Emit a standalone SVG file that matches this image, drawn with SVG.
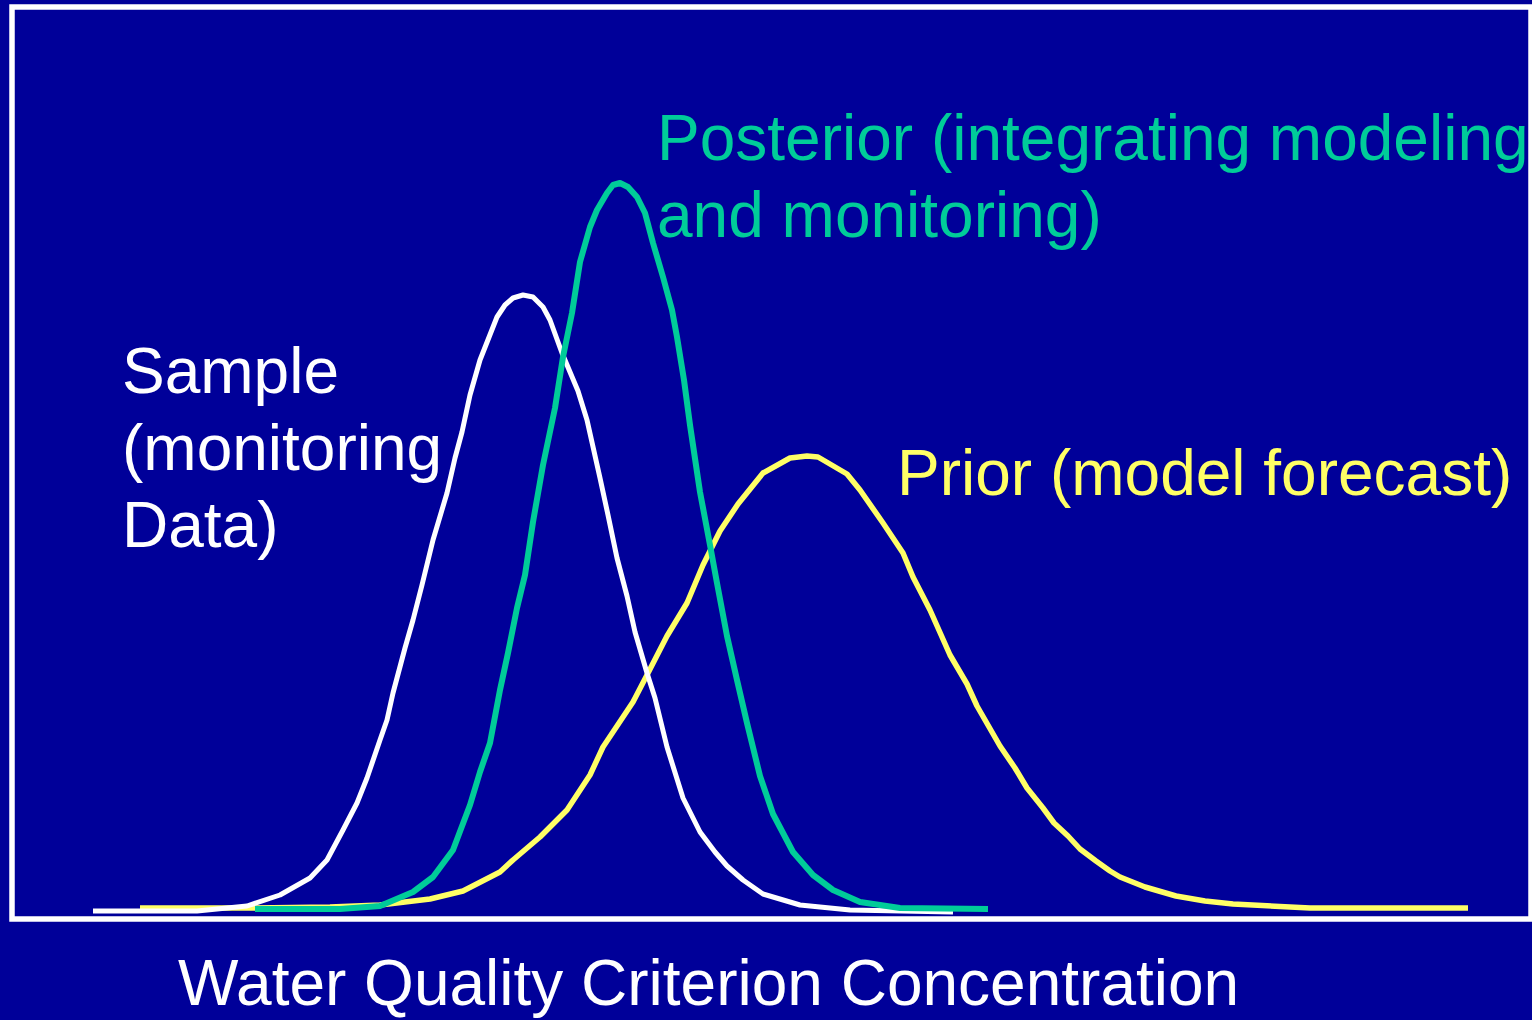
<svg xmlns="http://www.w3.org/2000/svg" width="1532" height="1020" viewBox="0 0 1532 1020">
<style>
.curve{fill:none;stroke-linejoin:round;stroke-linecap:butt}
.lbl{font-family:"Liberation Sans",Arial,sans-serif;font-size:64px}
</style>
<rect x="0" y="0" width="1532" height="1020" fill="#000099"/>
<rect id="frame" x="12" y="7" width="1519" height="912" fill="none" stroke="#ffffff" stroke-width="5.5"/>
<g id="curves">
<polyline id="prior-curve" class="curve" stroke="#ffff66" stroke-width="5.5" points="140,908 250,908 330,907 380,905 430,899 463,891 500,872 513,860 540,837 567,810 590,775 603,747 633,702 647,675 667,636 687,603 703,565 720,531 738,504 763,473 790,458 807,456 818,457 847,474 860,490 883,523 903,553 913,577 930,610 950,655 967,684 977,706 1000,746 1015,768 1027,788 1043,808 1054,823 1068,836 1080,849 1096,861 1110,871 1120,877 1145,887 1176,896 1205,901 1233,904 1310,908 1468,908"/>
<polyline id="sample-curve" class="curve" stroke="#ffffff" stroke-width="5" points="93,911 197,911 247,906 280,895 310,878 327,860 343,830 357,803 367,778 380,740 387,720 393,693 405,648 413,620 422,585 433,540 447,493 455,458 462,432 470,395 480,360 497,317 505,305 513,298 523,295 533,297 543,307 550,320 562,353 578,391 587,420 600,478 608,515 617,558 627,596 635,632 647,673 655,698 667,747 683,798 700,832 715,852 727,866 743,880 763,894 800,905 850,910 953,912"/>
<polyline id="posterior-curve" class="curve" stroke="#00cc99" stroke-width="6" points="255,909 340,909 380,906 413,892 433,877 453,850 470,805 480,772 490,743 500,690 508,653 517,608 525,575 533,522 543,465 555,408 563,357 572,313 580,262 590,227 597,210 607,193 613,185 620,183 628,187 637,197 645,213 653,243 663,277 672,310 677,337 684,380 690,425 700,492 710,545 717,583 727,636 737,680 747,723 760,776 773,814 793,852 813,875 833,890 860,902 900,908 988,909"/>
</g>
<g id="label-posterior" class="lbl" fill="#00cc99">
<text x="657" y="160">Posterior (integrating modeling</text>
<text x="657" y="237">and monitoring)</text>
</g>
<g id="label-sample" class="lbl" fill="#ffffff">
<text x="122" y="393">Sample</text>
<text x="122" y="470">(monitoring</text>
<text x="122" y="547">Data)</text>
</g>
<g id="label-prior" class="lbl" fill="#ffff66">
<text x="897" y="495">Prior (model forecast)</text>
</g>
<g id="axis-label" class="lbl" fill="#ffffff">
<text x="178" y="1005">Water Quality Criterion Concentration</text>
</g>
</svg>
